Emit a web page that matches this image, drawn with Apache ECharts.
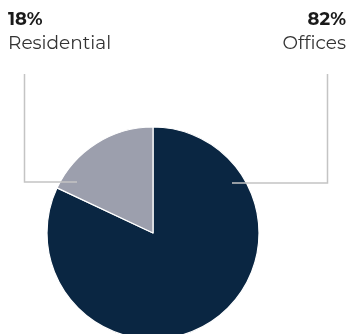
<!DOCTYPE html>
<html>
<head>
<meta charset="utf-8">
<style>
  html, body { margin: 0; padding: 0; background: #ffffff; }
  #chart { width: 348px; height: 334px; }
</style>
<script src="https://cdn.jsdelivr.net/npm/echarts@6/dist/echarts.min.js"></script>
</head>
<body>
<div id="chart"></div>
<script>
// Space split by use
const categories = ['Offices', 'Residential'];
const shares = [82, 18];
const colors = ['#0a2642', '#9c9fad'];

const CX = 153, CY = 233, R = 106;
const W = 348;
const LINE_TOP = 74;

// Leader lines: start inside the slice, run out horizontally, then up to the label
const leaderSpec = {
  Offices:     { dx: 79,  dy: -50, xEdge: 327.5, align: 'right', tx: W - 2 },
  Residential: { dx: -76, dy: -51, xEdge: 24.5,  align: 'left',  tx: 8 }
};

const chart = echarts.init(document.getElementById('chart'), null, { renderer: 'canvas' });

// Leader lines drawn above the slices
const leaderLines = categories.map(name => {
  const s = leaderSpec[name];
  const sy = CY + s.dy;
  return {
    type: 'polyline',
    z: 100,
    silent: true,
    shape: { points: [[CX + s.dx, sy], [s.xEdge, sy], [s.xEdge, LINE_TOP]] },
    style: { stroke: '#c4c4c4', lineWidth: 1.5, fill: null }
  };
});

chart.setOption({
  animation: false,
  graphic: leaderLines,
  series: [{
    type: 'pie',
    center: [CX, CY],
    radius: [0, R],
    startAngle: 90,
    clockwise: true,
    avoidLabelOverlap: false,
    itemStyle: { borderColor: '#ffffff', borderWidth: 1.2 },
    emphasis: { disabled: true },
    label: {
      show: true,
      position: 'outside',
      formatter: p => '{v|' + p.value + '%}\n{n|' + p.name + '}',
      rich: {
        v: { fontFamily: 'Montserrat, "Open Sans", sans-serif', fontWeight: 'bold', fontSize: 18, color: '#1a1a1a', lineHeight: 24 },
        n: { fontFamily: 'Montserrat, "Open Sans", sans-serif', fontSize: 18.5, color: '#333333', lineHeight: 24 }
      }
    },
    labelLine: { show: false },
    labelLayout: function (params) {
      const s = leaderSpec[categories[params.dataIndex]];
      return { x: s.tx, y: 8, align: s.align, verticalAlign: 'top' };
    },
    data: categories.map((c, i) => ({ name: c, value: shares[i], itemStyle: { color: colors[i] } }))
  }]
});
</script>
</body>
</html>
